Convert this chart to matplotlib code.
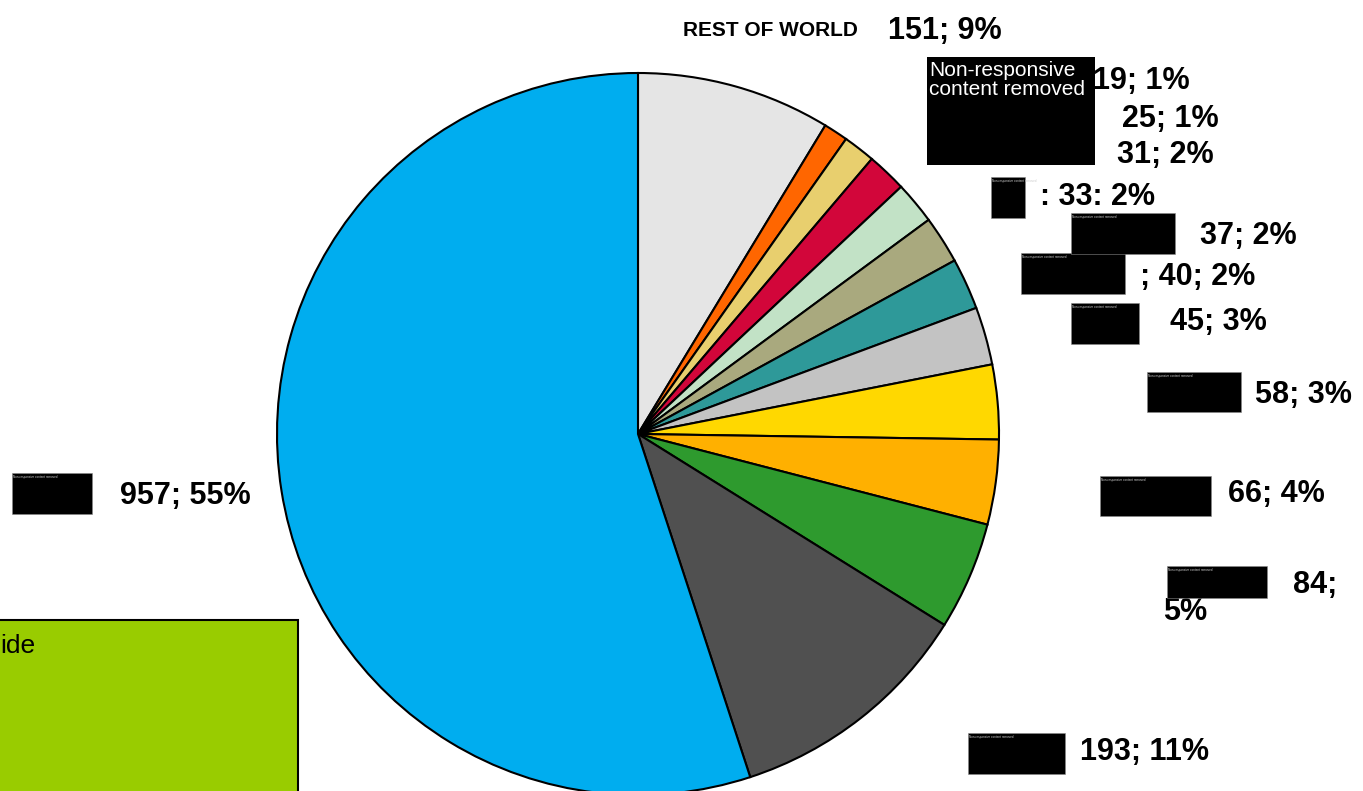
import matplotlib.pyplot as plt
from matplotlib.patches import Rectangle

W, H = 1363, 791

# slice values, clockwise from 12 o'clock
values = [151, 19, 25, 31, 33, 37, 40, 45, 58, 66, 84, 193, 957]
colors = ['#e5e5e5', '#ff6600', '#e8cf6e', '#d2063a', '#c2e2c6', '#a9a97e',
          '#2e9999', '#c3c3c3', '#ffd800', '#ffb000', '#2e9a2e', '#505050',
          '#00adef']
labels = ['151; 9%', '19; 1%', '25; 1%', '31; 2%', ': 33: 2%', '37; 2%',
          '; 40; 2%', '45; 3%', '58; 3%', '66; 4%', '84;', '193; 11%',
          '957; 55%']

# label anchors (left edge, vertical centre) in pixels from top-left
label_pos = [(888, 31), (1093, 81), (1122, 119), (1117, 155), (1040, 197),
             (1200, 236), (1140, 277), (1170, 322), (1255, 395), (1228, 494),
             (1293, 585), (1080, 752), (120, 496)]

# blacked-out name boxes: x0, y0, x1, y1
boxes = [(12, 473, 92, 514), (968, 733, 1065, 774), (1167, 566, 1267, 598),
         (1100, 476, 1211, 516), (1147, 372, 1241, 412), (1071, 303, 1139, 344),
         (1021, 253, 1125, 294), (1071, 213, 1175, 254), (991, 177, 1025, 218)]

plt.rcParams['font.family'] = ['Liberation Sans', 'DejaVu Sans']

fig = plt.figure(figsize=(W / 100, H / 100), dpi=100)
ax = fig.add_axes([0, 0, 1, 1])

ax.pie(values, colors=colors, startangle=90, counterclock=False,
       center=(638, H - 434), radius=361,
       wedgeprops=dict(edgecolor='black', linewidth=1.5))

ax.set_xlim(0, W)
ax.set_ylim(0, H)
ax.set_aspect('equal')
ax.axis('off')


def px(x, y):
    return x, H - y


for s, (x, y) in zip(labels, label_pos):
    ax.text(*px(x, y), s, fontsize=22, fontweight='bold', va='center', ha='left')
ax.text(*px(1163, 612), '5%', fontsize=22, fontweight='bold', va='center', ha='left')

ax.text(*px(683, 30), 'REST OF WORLD', fontsize=15, fontweight='bold',
        va='center', ha='left')

# redaction boxes
for x0, y0, x1, y1 in boxes:
    ax.add_patch(Rectangle(px(x0, y1), x1 - x0, y1 - y0, facecolor='black',
                           edgecolor='#888888', linewidth=0.4, zorder=5))
    ax.text(*px(x0 + 1, y0 + 2), 'Non-responsive content removed', fontsize=2.2,
            color='#cccccc', va='top', ha='left', zorder=6)

ax.add_patch(Rectangle(px(927, 165), 1095 - 927, 165 - 57, facecolor='black',
                       edgecolor='none', zorder=5))
ax.text(*px(929, 80), 'Non-responsive\ncontent removed', fontsize=15,
        color='white', va='center', ha='left', linespacing=1.0, zorder=6)

# green note box, cut off at the left and bottom
ax.add_patch(Rectangle(px(-10, 800), 308, 180, facecolor='#99cc00',
                       edgecolor='black', linewidth=1.5))
ax.text(*px(0, 646), 'ide', fontsize=19, va='center', ha='left')

fig.savefig('out.png', dpi=100)
